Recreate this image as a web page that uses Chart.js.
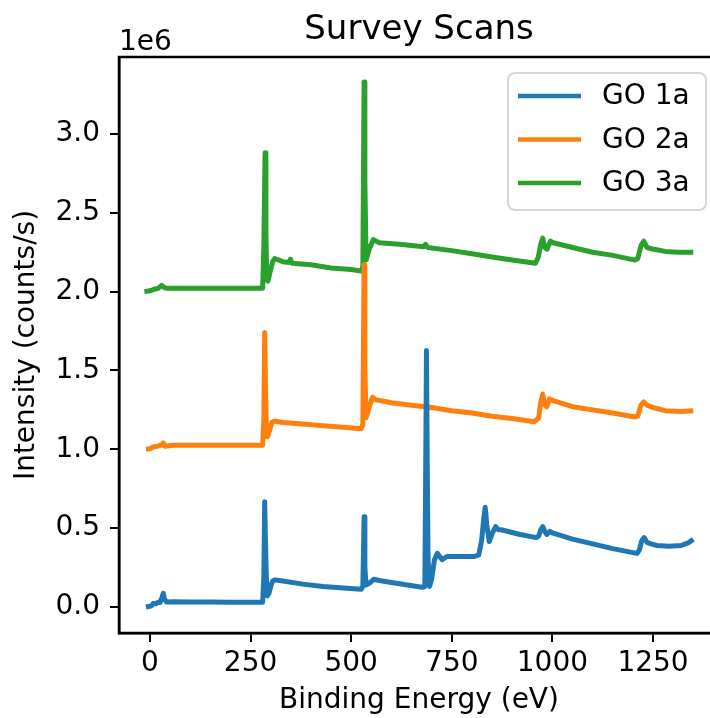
<!DOCTYPE html>
<html>
<head>
<meta charset="utf-8">
<script src="https://cdn.jsdelivr.net/npm/chart.js@4.4.1/dist/chart.umd.min.js"></script>
<style>
  html, body { margin:0; padding:0; background:#fff; overflow:hidden; }
  #wrap { width:710px; height:718px; overflow:hidden; }
</style>
</head>
<body>
<div id="wrap"><canvas id="survey" width="740" height="718"></canvas></div>
<script>
// survey scans - three XPS spectra

const xTicks = [0, 250, 500, 750, 1000, 1250];
const yTicks = [0, 0.5e6, 1.0e6, 1.5e6, 2.0e6, 2.5e6, 3.0e6];
const seriesNames = ['GO 1a', 'GO 2a', 'GO 3a'];
const seriesColors = ['#1f77b4', '#ff7f0e', '#2ca02c'];

const go1aEnergy = [-10, 0, 5, 8, 15, 20, 25, 30, 33, 36, 41, 60, 100, 150, 200, 250, 280, 283, 285, 287, 289, 292, 296, 300, 305, 311,
  330, 380, 430, 480, 525, 529, 532, 534, 537, 545, 556, 570, 600, 640, 676, 683, 685, 687, 689, 691, 695, 700, 707, 714, 720, 726,
  738, 770, 805, 817, 824, 829, 833, 837, 843, 851, 859, 866, 872, 880, 920, 960, 966, 971, 976, 981, 986, 994, 1000, 1050, 1100,
  1150, 1200, 1210, 1216, 1222, 1228, 1235, 1245, 1260, 1290, 1320, 1340, 1350];
const go1aCounts = [0.0e6, 0.005e6, 0.01e6, 0.022e6, 0.02e6, 0.03e6, 0.028e6, 0.06e6, 0.087e6, 0.05e6, 0.032e6, 0.033e6, 0.032e6,
  0.031e6, 0.03e6, 0.03e6, 0.03e6, 0.2e6, 0.668e6, 0.42e6, 0.2e6, 0.07e6, 0.09e6, 0.13e6, 0.165e6, 0.172e6,
  0.165e6, 0.145e6, 0.13e6, 0.12e6, 0.113e6, 0.13e6, 0.573e6, 0.25e6, 0.14e6, 0.15e6, 0.176e6, 0.168e6, 0.155e6, 0.14e6, 0.125e6,
  0.13e6, 0.8e6, 1.627e6, 0.9e6, 0.3e6, 0.13e6, 0.18e6, 0.3e6, 0.34e6, 0.32e6, 0.30e6,
  0.32e6, 0.32e6, 0.32e6, 0.33e6, 0.42e6, 0.55e6, 0.632e6, 0.52e6, 0.415e6, 0.47e6, 0.51e6, 0.49e6, 0.49e6, 0.485e6, 0.46e6, 0.44e6,
  0.45e6, 0.49e6, 0.51e6, 0.48e6, 0.46e6, 0.48e6, 0.47e6, 0.43e6, 0.40e6,
  0.37e6, 0.345e6, 0.34e6, 0.36e6, 0.42e6, 0.44e6, 0.41e6, 0.40e6, 0.39e6, 0.385e6, 0.39e6, 0.41e6, 0.43e6];

const go2aEnergy = [-10, 0, 8, 20, 30, 33, 37, 60, 150, 280, 283, 285, 287, 289, 292, 297, 303, 310, 330, 380, 430, 480, 525, 529,
  532, 534, 537, 545, 553, 560, 600, 650, 700, 750, 800, 850, 900, 955, 966, 971, 976, 981, 986, 993, 1000, 1050, 1100, 1150,
  1205, 1212, 1220, 1227, 1235, 1250, 1280, 1320, 1350];
const go2aCounts = [1.0e6, 1.003e6, 1.015e6, 1.02e6, 1.03e6, 1.04e6, 1.02e6, 1.025e6, 1.025e6, 1.025e6, 1.2e6, 1.74e6, 1.4e6,
  1.15e6, 1.08e6, 1.12e6, 1.17e6, 1.18e6, 1.17e6, 1.16e6, 1.15e6, 1.14e6, 1.13e6, 1.16e6,
  2.17e6, 1.5e6, 1.2e6, 1.27e6, 1.33e6, 1.315e6, 1.295e6, 1.28e6, 1.265e6, 1.245e6, 1.23e6, 1.21e6, 1.195e6, 1.175e6, 1.2e6, 1.3e6,
  1.35e6, 1.28e6, 1.27e6, 1.32e6, 1.31e6, 1.27e6, 1.25e6, 1.23e6,
  1.205e6, 1.21e6, 1.28e6, 1.30e6, 1.28e6, 1.265e6, 1.245e6, 1.24e6, 1.245e6];

const go3aEnergy = [-14, 0, 10, 20, 29, 33, 40, 100, 200, 280, 283, 286, 288, 290, 293, 298, 305, 310, 330, 345, 349, 353, 400,
  450, 500, 525, 529, 532, 534, 537, 545, 555, 570, 620, 680, 685, 690, 750, 800, 850, 900, 958, 965, 971, 976, 981, 987, 995,
  1002, 1050, 1100, 1150, 1205, 1212, 1220, 1227, 1235, 1250, 1280, 1312, 1350];
const go3aCounts = [2.0e6, 2.005e6, 2.015e6, 2.02e6, 2.04e6, 2.03e6, 2.022e6, 2.022e6, 2.022e6, 2.022e6, 2.3e6, 2.88e6, 2.4e6,
  2.1e6, 2.066e6, 2.12e6, 2.19e6, 2.21e6, 2.19e6, 2.185e6, 2.205e6, 2.18e6, 2.17e6,
  2.15e6, 2.14e6, 2.13e6, 2.16e6, 3.33e6, 2.7e6, 2.2e6, 2.27e6, 2.33e6, 2.31e6, 2.3e6, 2.285e6, 2.3e6, 2.28e6, 2.26e6, 2.24e6,
  2.22e6, 2.2e6, 2.18e6, 2.22e6, 2.30e6, 2.34e6, 2.28e6, 2.27e6, 2.32e6,
  2.31e6, 2.28e6, 2.25e6, 2.23e6, 2.20e6, 2.21e6, 2.29e6, 2.32e6, 2.28e6, 2.27e6, 2.255e6, 2.25e6, 2.25e6];

const energies = [go1aEnergy, go2aEnergy, go3aEnergy];
const counts = [go1aCounts, go2aCounts, go3aCounts];

const FONT = '"DejaVu Sans", sans-serif';

function pts(xs, ys) {
  return xs.map((x, i) => ({x: x, y: ys[i]}));
}

// title, 1e6 offset text, frame and legend box drawn by hand
const extras = {
  id: 'extras',
  afterDatasetsDraw(chart) {
    const {ctx, chartArea: a} = chart;
    ctx.save();
    ctx.strokeStyle = '#000';
    ctx.lineWidth = 2.5;
    ctx.strokeRect(a.left, a.top, a.right - a.left, a.bottom - a.top);
    ctx.restore();
  },
  afterDraw(chart) {
    const {ctx, chartArea: a} = chart;
    ctx.save();
    ctx.fillStyle = '#000';
    ctx.font = '34px ' + FONT;
    ctx.textAlign = 'center';
    ctx.textBaseline = 'alphabetic';
    ctx.fillText('Survey Scans', (a.left + a.right) / 2, 39);

    ctx.font = '28px ' + FONT;
    ctx.textAlign = 'left';
    ctx.fillText('1e6', a.left, 50);

    // legend
    let bx = 508, by = 73, bw = 198, bh = 137, r = 7;
    ctx.beginPath();
    ctx.moveTo(bx + r, by);
    ctx.arcTo(bx + bw, by, bx + bw, by + bh, r);
    ctx.arcTo(bx + bw, by + bh, bx, by + bh, r);
    ctx.arcTo(bx, by + bh, bx, by, r);
    ctx.arcTo(bx, by, bx + bw, by, r);
    ctx.closePath();
    ctx.fillStyle = 'rgba(255,255,255,0.8)';
    ctx.fill();
    ctx.strokeStyle = '#d6d6d6';
    ctx.lineWidth = 2;
    ctx.stroke();

    ctx.textBaseline = 'middle';
    seriesNames.forEach((name, i) => {
      let y = 96 + i * 43.5;
      ctx.strokeStyle = seriesColors[i];
      ctx.lineWidth = 4.5;
      ctx.beginPath();
      ctx.moveTo(518, y);
      ctx.lineTo(581, y);
      ctx.stroke();
      ctx.fillStyle = '#000';
      ctx.fillText(name, 602, y + 1);
    });
    ctx.restore();
  }
};

new Chart(document.getElementById('survey').getContext('2d'), {
  type: 'scatter',
  data: {
    datasets: seriesNames.map((name, i) => ({
      label: name,
      data: pts(energies[i], counts[i]),
      showLine: true,
      borderColor: seriesColors[i],
      backgroundColor: seriesColors[i],
      borderWidth: 5,
      pointRadius: 0,
      tension: 0,
      borderJoinStyle: 'round'
    }))
  },
  options: {
    responsive: false,
    animation: false,
    layout: { padding: { left: 0, top: 57, right: 21, bottom: 0 } },
    plugins: { legend: { display: false }, tooltip: { enabled: false } },
    scales: {
      x: {
        type: 'linear',
        min: -77, max: 1414,
        afterFit: s => { s.height = 85; },
        afterBuildTicks: s => { s.ticks = xTicks.map(v => ({value: v})); },
        grid: { drawOnChartArea: false, drawTicks: true, tickLength: 9, color: '#000', lineWidth: 2 },
        border: { display: true, color: '#000', width: 2.5 },
        ticks: { color: '#000', padding: 5, font: { family: FONT, size: 28 }, maxRotation: 0, callback: v => String(v) },
        title: { display: true, text: 'Binding Energy (eV)', color: '#000', font: { family: FONT, size: 28 }, padding: { top: 0, bottom: 0 } }
      },
      y: {
        min: -0.165e6, max: 3.488e6,
        afterFit: s => { s.width = 119; },
        afterBuildTicks: s => { s.ticks = yTicks.map(v => ({value: v})); },
        grid: { drawOnChartArea: false, drawTicks: true, tickLength: 9, color: '#000', lineWidth: 2 },
        border: { display: true, color: '#000', width: 2.5 },
        ticks: { color: '#000', padding: 10, font: { family: FONT, size: 28 }, callback: v => (v / 1e6).toFixed(1) },
        title: { display: true, text: 'Intensity (counts/s)', color: '#000', font: { family: FONT, size: 28 }, padding: { top: 10, bottom: 0 } }
      }
    }
  },
  plugins: [extras]
});
</script>
</body>
</html>
